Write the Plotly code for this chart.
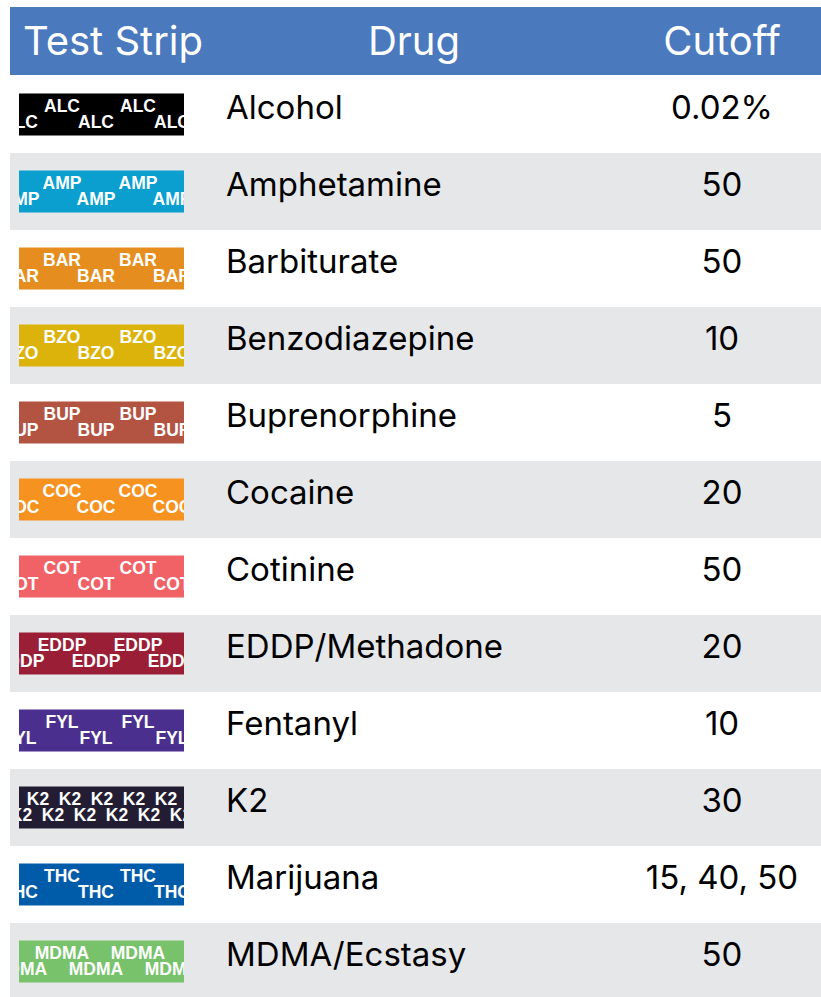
import plotly.graph_objects as go

# ---- data ----
headers = ["Test Strip", "Drug", "Cutoff"]
codes = ["ALC", "AMP", "BAR", "BZO", "BUP", "COC", "COT", "EDDP", "FYL", "K2", "THC", "MDMA"]
drugs = ["Alcohol", "Amphetamine", "Barbiturate", "Benzodiazepine", "Buprenorphine",
         "Cocaine", "Cotinine", "EDDP/Methadone", "Fentanyl", "K2", "Marijuana", "MDMA/Ecstasy"]
cutoffs = ["0.02%", "50", "50", "10", "5", "20", "50", "20", "10", "30", "15, 40, 50", "50"]
strip_colors = ["#000000", "#0a9fce", "#e68d1f", "#dcb30b", "#b35443", "#f6921f",
                "#f06265", "#9a1f36", "#4b2f8e", "#221d33", "#005ca9", "#77c26b"]

# ---- layout constants ----
W, H = 821, 997
HEAD_X0, HEAD_X1, HEAD_Y0, HEAD_Y1 = 10, 821, 7, 75
ROW0, ROW_H = 76, 77
STRIP_X0, STRIP_X1, STRIP_H = 19, 184, 42
HEADER_COLOR = "#4a79be"
GRAY = "#e6e7e9"
BODY_FONT = "Inter"
HEAD_FONT = "Inter"

n = len(drugs)
centers = [ROW0 + ROW_H * i + ROW_H / 2 for i in range(n)]

shapes = [dict(type="rect", xref="x", yref="y", x0=HEAD_X0, x1=HEAD_X1, y0=HEAD_Y0, y1=HEAD_Y1,
               fillcolor=HEADER_COLOR, line=dict(width=0), layer="below")]
for i in range(n):
    if i % 2 == 1:
        shapes.append(dict(type="rect", xref="x", yref="y", x0=HEAD_X0, x1=W,
                           y0=ROW0 + ROW_H * i, y1=ROW0 + ROW_H * (i + 1),
                           fillcolor=GRAY, line=dict(width=0), layer="below"))
for i in range(n):
    shapes.append(dict(type="rect", xref="x", yref="y", x0=STRIP_X0, x1=STRIP_X1,
                       y0=centers[i] - STRIP_H / 2, y1=centers[i] + STRIP_H / 2,
                       fillcolor=strip_colors[i], line=dict(width=0), layer="below"))

fig = go.Figure()

# header text
fig.add_trace(go.Scatter(x=[113, 414, 722], y=[45, 45, 45], text=headers, mode="text",
                         textposition="middle center", hoverinfo="skip",
                         textfont=dict(family=HEAD_FONT, size=40, color="white")))
# drug names
fig.add_trace(go.Scatter(x=[226] * n, y=[c - 4 for c in centers], text=drugs, mode="text",
                         textposition="middle right", hoverinfo="skip",
                         textfont=dict(family=BODY_FONT, size=33, color="#000000")))
# cutoffs
fig.add_trace(go.Scatter(x=[722] * n, y=[c - 4 for c in centers], text=cutoffs, mode="text",
                         textposition="middle center", hoverinfo="skip",
                         textfont=dict(family=BODY_FONT, size=33, color="#000000")))

# strip labels (clipped to strip column)
sx, sy, st = [], [], []
for i, code in enumerate(codes):
    if len(code) == 2:
        step, top0, bot0 = 32, 38, 21
    else:
        step, top0, bot0 = 76, 62, 96
    half = len(code) * 6
    for start, dy in ((top0, -7), (bot0, 9)):
        x = start
        while x - step + half > STRIP_X0:
            x -= step
        while x - half < STRIP_X1:
            if x + half > STRIP_X0:
                sx.append(x)
                sy.append(centers[i] + dy)
                st.append(code)
            x += step
fig.add_trace(go.Scatter(x=sx, y=sy, text=st, mode="text", xaxis="x2", yaxis="y",
                         textposition="middle center", hoverinfo="skip", cliponaxis=True,
                         textfont=dict(family="Liberation Sans", size=17.5, color="white",
                                       weight="bold")))

fig.update_layout(
    width=W, height=H, autosize=False,
    margin=dict(l=0, r=0, t=0, b=0),
    paper_bgcolor="white", plot_bgcolor="rgba(0,0,0,0)",
    showlegend=False, shapes=shapes,
    xaxis=dict(range=[0, W], domain=[0, 1], visible=False, fixedrange=True),
    xaxis2=dict(range=[STRIP_X0, STRIP_X1], domain=[STRIP_X0 / W, STRIP_X1 / W],
                anchor="y", visible=False, fixedrange=True),
    yaxis=dict(range=[H, 0], domain=[0, 1], visible=False, fixedrange=True),
)

fig.write_html("out.html", config={"displayModeBar": False},
               post_script="document.body.style.margin='0';document.body.style.overflow='hidden';")
